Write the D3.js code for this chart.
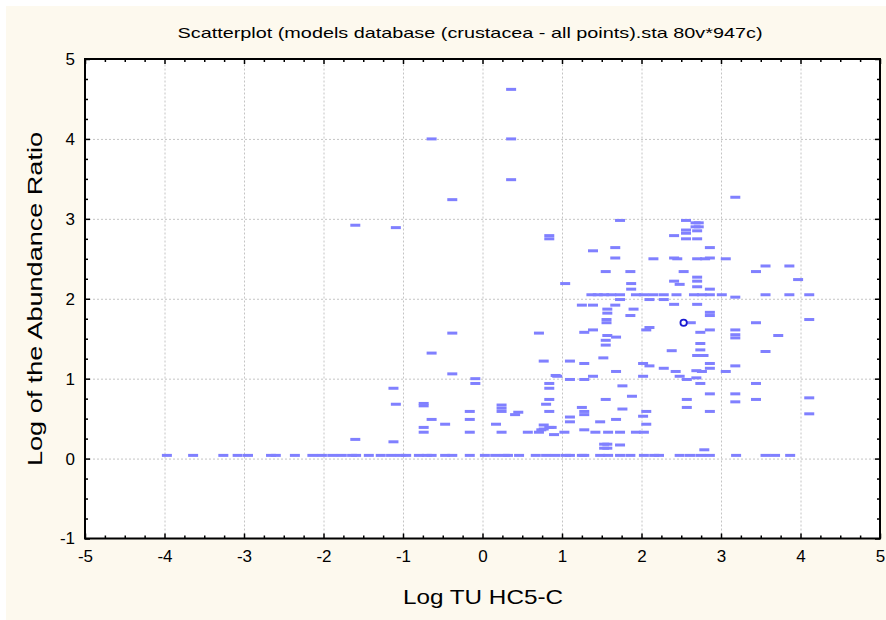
<!DOCTYPE html>
<html>
<head>
<meta charset="utf-8">
<script src="https://cdn.jsdelivr.net/npm/d3@7"></script>
<style>
  body { margin: 0; background: #ffffff; }
  text { font-family: "Liberation Sans", Arial, sans-serif; fill: #000; }
</style>
</head>
<body>
<div id="chart"></div>
<script>
// Reads the chart values
const xTicks = [-5, -4, -3, -2, -1, 0, 1, 2, 3, 4, 5];
const yTicks = [-1, 0, 1, 2, 3, 4, 5];

// points sitting on the baseline (log ratio ~ 0.04)
const baseY = 0.04;
const baseX = [-3.97, -3.64, -3.26, -3.08, -2.95, -2.66, -2.60, -2.36,
  -2.14, -2.02, -1.89, -1.77, -1.64, -1.59, -1.43, -1.28, -1.15, -1.03, -0.96,
  -0.80, -0.70, -0.64, -0.47, -0.38, -0.16, 0.03, 0.16, 0.28, 0.32, 0.46,
  0.67, 0.80, 0.92, 1.05, 1.10, 1.25, 1.28, 1.48, 1.58, 1.73, 1.86,
  2.03, 2.16, 2.22, 2.48, 2.61, 2.74, 2.86, 3.19, 3.56, 3.68, 3.87];

// isolated high values
const outliers = [[0.36, 4.62], [-0.64, 4.0], [0.36, 4.0], [0.36, 3.49], [-0.38, 3.24],
  [-1.60, 2.92], [-1.09, 2.89], [0.84, 2.79], [0.84, 2.75], [3.18, 3.27]];

// low band, left half
const lowLeft = [[-0.38, 1.57], [-0.64, 1.32], [-0.38, 1.06], [0.71, 1.57], [0.77, 1.22],
  [-0.09, 1.0], [-0.09, 0.94], [0.92, 1.04], [-1.12, 0.88], [-1.09, 0.68], [-0.74, 0.66],
  [-0.74, 0.69], [-0.64, 0.49], [-0.74, 0.39], [-0.74, 0.33], [-0.47, 0.43], [-0.16, 0.59],
  [-0.16, 0.49], [-0.16, 0.33], [-1.60, 0.24], [-1.12, 0.21], [0.24, 0.63], [0.24, 0.67],
  [0.24, 0.59], [0.17, 0.43], [0.24, 0.33], [0.45, 0.58], [0.41, 0.55], [0.57, 0.33],
  [0.71, 0.33], [0.77, 0.42], [0.84, 0.39], [0.77, 0.37], [0.90, 0.30], [0.84, 0.88],
  [0.84, 0.94], [0.84, 0.74], [0.80, 0.68], [0.84, 0.59], [0.74, 0.36], [0.87, 0.39]];

// mid band
const midBand = [[1.28, 1.58], [1.39, 1.61], [1.57, 1.54], [1.68, 1.52], [1.55, 1.48],
  [1.55, 1.42], [2.06, 1.61], [2.10, 1.64], [2.74, 1.58], [2.86, 1.61], [3.18, 1.61],
  [3.18, 1.51], [3.18, 1.55], [2.74, 1.44], [2.74, 1.36], [2.38, 1.35], [2.70, 1.29],
  [2.78, 1.29], [1.52, 1.26], [1.10, 1.22], [1.28, 1.19], [2.02, 1.19], [2.10, 1.16],
  [2.28, 1.13], [2.43, 1.09], [2.86, 1.19], [2.86, 1.13], [2.76, 1.09], [2.69, 1.10],
  [3.18, 1.16], [3.06, 1.09], [1.68, 1.09], [0.94, 1.03], [1.39, 1.03], [2.02, 1.03],
  [2.48, 1.03], [1.10, 0.99], [1.28, 0.99], [2.57, 0.99], [2.69, 1.01], [1.76, 0.91],
  [2.74, 0.94], [1.88, 0.78], [2.86, 0.81], [3.18, 0.81], [3.18, 0.71], [1.55, 0.74],
  [2.57, 0.74], [2.57, 0.64], [1.25, 0.64], [1.28, 0.55], [1.28, 0.59], [1.76, 0.62],
  [2.06, 0.59], [2.86, 0.59], [1.10, 0.52], [1.10, 0.46], [1.48, 0.46], [1.68, 0.49],
  [2.02, 0.53], [2.06, 0.43], [1.28, 0.36], [1.03, 0.33], [1.42, 0.33], [1.58, 0.33],
  [1.73, 0.33], [1.93, 0.33], [2.03, 0.33], [1.53, 0.13], [1.57, 0.13], [1.53, 0.18],
  [1.57, 0.18], [1.73, 0.17], [2.79, 0.11], [2.62, 1.70]];

// upper band
const highBand = [[1.73, 2.98], [2.56, 2.98], [2.68, 2.90], [2.72, 2.90], [2.68, 2.95],
  [2.72, 2.95], [2.56, 2.86], [2.70, 2.85], [2.56, 2.82], [2.41, 2.79], [2.56, 2.75],
  [2.70, 2.75], [2.86, 2.64], [1.67, 2.64], [1.39, 2.60], [1.67, 2.51], [2.15, 2.50],
  [2.41, 2.51], [2.45, 2.50], [2.70, 2.50], [2.80, 2.50], [2.86, 2.51], [3.06, 2.50],
  [1.55, 2.34], [1.86, 2.34], [2.53, 2.34], [1.04, 2.19], [2.41, 2.22], [2.48, 2.18],
  [2.70, 2.27], [2.70, 2.22], [2.70, 2.15], [2.86, 2.12], [1.87, 2.19], [1.87, 2.12],
  [1.37, 2.05], [1.45, 2.05], [1.53, 2.05], [1.62, 2.05], [1.73, 2.05], [1.93, 2.05],
  [2.03, 2.05], [2.15, 2.05], [2.28, 2.05], [2.44, 2.05], [2.66, 2.05], [2.76, 2.05],
  [2.86, 2.05], [3.01, 2.05], [3.56, 2.05], [3.86, 2.05], [4.11, 2.05], [1.73, 1.99],
  [2.10, 1.99], [2.28, 1.99], [3.18, 2.02], [1.25, 1.92], [1.39, 1.92], [1.67, 1.92],
  [2.41, 1.93], [2.70, 1.93], [1.57, 1.87], [1.57, 1.82], [1.90, 1.87], [1.86, 1.79],
  [2.86, 1.79], [2.86, 1.83], [1.56, 1.74], [1.56, 1.70]];

// right edge
const rightSide = [[3.56, 2.41], [3.86, 2.41], [3.44, 2.34], [3.97, 2.24], [4.11, 1.74],
  [3.44, 1.70], [3.72, 1.54], [3.56, 1.34], [3.44, 0.94], [3.44, 0.74], [4.11, 0.76],
  [4.11, 0.56]];

// the one point drawn as a ring
const highlight = [[2.53, 1.70]];

// Sets dimensions
const width = 886;
const height = 620;
const plot = { left: 85, right: 880, top: 59, bottom: 538.5 };

const svg = d3.select("#chart")
  .append("svg")
  .attr("width", width)
  .attr("height", height);

// background panel
svg.append("rect")
  .attr("x", 6).attr("y", 6)
  .attr("width", width - 6).attr("height", height - 6)
  .attr("fill", "#fdf9ee");

svg.append("rect")
  .attr("x", plot.left).attr("y", plot.top)
  .attr("width", plot.right - plot.left).attr("height", plot.bottom - plot.top)
  .attr("fill", "#ffffff");

// Defines scales
const x = d3.scaleLinear().domain([-5, 5]).range([plot.left, plot.right]);
const y = d3.scaleLinear().domain([-1, 5]).range([plot.bottom, plot.top]);

const minorX = d3.range(-5, 5.001, 0.25).filter(v => Math.abs(v - Math.round(v)) > 0.01);
const minorY = d3.range(-1, 5.001, 0.25).filter(v => Math.abs(v - Math.round(v)) > 0.01);

const plotW = plot.right - plot.left;
const plotH = plot.bottom - plot.top;

// dotted grid
svg.append("g")
  .attr("transform", `translate(0, ${plot.bottom})`)
  .call(d3.axisBottom(x).tickValues(xTicks.slice(1, -1)).tickSize(-plotH).tickFormat(""))
  .call(g => g.select(".domain").remove())
  .call(g => g.selectAll("line").attr("stroke", "#c4c4c4").attr("stroke-dasharray", "2,2"));

svg.append("g")
  .attr("transform", `translate(${plot.left}, 0)`)
  .call(d3.axisLeft(y).tickValues(yTicks.slice(1, -1)).tickSize(-plotW).tickFormat(""))
  .call(g => g.select(".domain").remove())
  .call(g => g.selectAll("line").attr("stroke", "#c4c4c4").attr("stroke-dasharray", "2,2"));

// points
const dashes = baseX.map(v => [v, baseY])
  .concat(outliers, lowLeft, midBand, highBand, rightSide);

const marks = svg.append("g");
marks.selectAll("rect")
  .data(dashes)
  .enter()
  .append("rect")
  .attr("x", d => x(d[0]) - 5)
  .attr("y", d => y(d[1]) - 1.5)
  .attr("width", 10)
  .attr("height", 3)
  .attr("fill", "#8080ff");

marks.selectAll("circle")
  .data(highlight)
  .enter()
  .append("circle")
  .attr("cx", d => x(d[0]))
  .attr("cy", d => y(d[1]))
  .attr("r", 3.2)
  .attr("fill", "#ffffff")
  .attr("stroke", "#1a1ad0")
  .attr("stroke-width", 1.8);

// ticks on all four sides, pointing inward
const plainNum = d => String(d);

function tickAxis(axisFn, scale, values, size, tx, ty, labels) {
  const ax = axisFn(scale).tickValues(values).tickSizeInner(-size).tickSizeOuter(0)
    .tickFormat(labels ? plainNum : "");
  const g = svg.append("g")
    .attr("transform", `translate(${tx}, ${ty})`)
    .call(ax);
  g.select(".domain").remove();
  g.selectAll("line").attr("stroke", "#000").attr("stroke-width", 1.5);
  return g;
}

tickAxis(d3.axisBottom, x, minorX, 3, 0, plot.bottom, false);
tickAxis(d3.axisTop, x, minorX, 3, 0, plot.top, false);
tickAxis(d3.axisLeft, y, minorY, 3, plot.left, 0, false);
tickAxis(d3.axisRight, y, minorY, 3, plot.right, 0, false);
tickAxis(d3.axisTop, x, xTicks, 5, 0, plot.top, false);
tickAxis(d3.axisRight, y, yTicks, 5, plot.right, 0, false);

tickAxis(d3.axisBottom, x, xTicks, 5, 0, plot.bottom, true)
  .call(ax => ax.selectAll("text").attr("y", 11).style("font-size", "17px"));
tickAxis(d3.axisLeft, y, yTicks, 5, plot.left, 0, true)
  .call(ax => ax.selectAll("text").attr("x", -10).style("font-size", "17px"));

// frame
svg.append("rect")
  .attr("x", plot.left).attr("y", plot.top)
  .attr("width", plotW).attr("height", plotH)
  .attr("fill", "none")
  .attr("stroke", "#000")
  .attr("stroke-width", 2);

// titles
svg.append("text")
  .attr("x", 470).attr("y", 38)
  .attr("text-anchor", "middle")
  .attr("textLength", 585)
  .attr("lengthAdjust", "spacingAndGlyphs")
  .style("font-size", "15px")
  .text("Scatterplot (models database (crustacea - all points).sta 80v*947c)");

svg.append("text")
  .attr("x", 483).attr("y", 604)
  .attr("text-anchor", "middle")
  .attr("textLength", 160)
  .attr("lengthAdjust", "spacingAndGlyphs")
  .style("font-size", "21px")
  .text("Log TU HC5-C");

svg.append("text")
  .attr("transform", `translate(42, 299) rotate(-90)`)
  .attr("text-anchor", "middle")
  .attr("textLength", 334)
  .attr("lengthAdjust", "spacingAndGlyphs")
  .style("font-size", "21px")
  .text("Log of the Abundance Ratio");
</script>
</body>
</html>
